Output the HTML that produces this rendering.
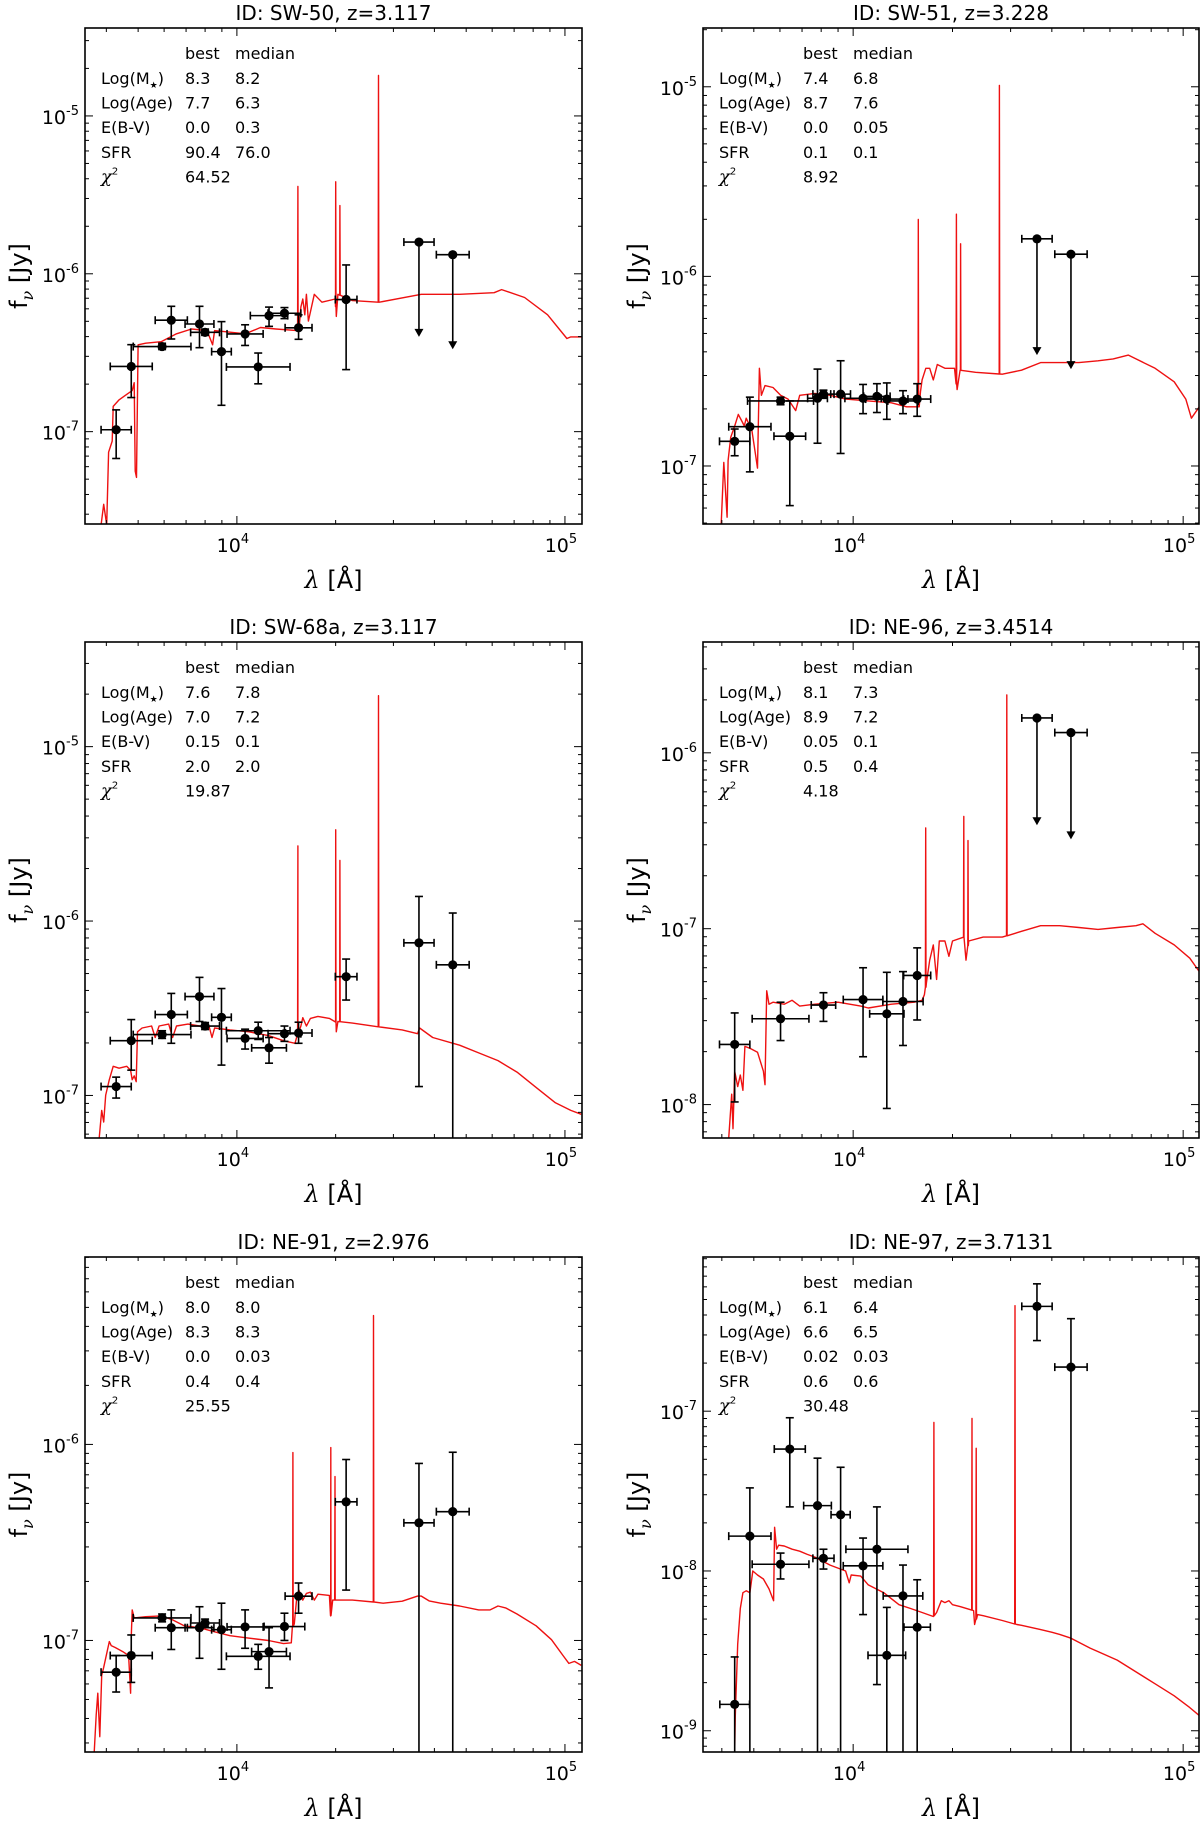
<!DOCTYPE html>
<html><head><meta charset="utf-8"><title>SED fits</title>
<style>
html,body{margin:0;padding:0;background:#fff;}
svg text{font-family:"DejaVu Sans","Liberation Sans",sans-serif;fill:#000;}
.serif{font-family:"DejaVu Serif","Liberation Serif",serif;font-style:italic;}
</style></head>
<body>
<svg id="fig" xmlns="http://www.w3.org/2000/svg" width="1200" height="1821" viewBox="0 0 1200 1821"></svg>
<script>
// ---- shared data ----
const lineRest = [3727, 4861, 5007, 6563];
const statLabels = ['Log(M\u2605)', 'Log(Age)', 'E(B-V)', 'SFR', 'chi2'];

// ---- panel 1: SW-50 ----
const p1Lam = [3.632,3.678,3.772,3.800,3.886,3.903,3.953,4.025,4.065,4.098,4.145,4.188,4.333,4.555,4.658];
const p1LamErr = [0.046,0.064,0.088,0.049,0.044,0.044,0.030,0.055,0.097,0.057,0.050,0.041,0.033,0.046,0.050];
const p1Flux = [-6.988,-6.587,-6.461,-6.294,-6.318,-6.371,-6.493,-6.381,-6.590,-6.265,-6.250,-6.342,-6.163,-5.799,-5.879];
const p1FluxLo = [-7.170,-6.784,-6.480,-6.413,-6.468,-6.390,-6.833,-6.454,-6.697,-6.333,-6.284,-6.415,-6.607,-6.400,-6.478];
const p1FluxHi = [-6.862,-6.449,-6.440,-6.206,-6.206,-6.350,-6.303,-6.323,-6.502,-6.211,-6.214,-6.260,-5.944,-5.799,-5.879];
const p1Upper = [0,0,0,0,0,0,0,0,0,0,0,0,0,1,1];
const p1SpecLam = [3.586,3.594,3.603,3.609,3.620,3.623,3.640,3.660,3.681,3.687,3.690,3.694,3.699,3.722,3.769,3.816,3.862,3.909,3.926,3.932,3.979,4.026,4.072,4.119,4.183,4.189,4.195,4.201,4.207,4.212,4.218,4.236,4.259,4.300,4.303,4.308,4.352,4.434,4.562,4.679,4.784,4.807,4.877,4.947,5.006,5.018,5.05];
const p1SpecFlux = [-7.59,-7.46,-7.59,-7.13,-7.06,-6.84,-6.80,-6.77,-6.74,-6.69,-7.25,-7.29,-6.45,-6.44,-6.43,-6.38,-6.35,-6.36,-6.45,-6.36,-6.37,-6.38,-6.34,-6.35,-6.36,-6.36,-6.21,-6.16,-6.26,-6.13,-6.30,-6.13,-6.18,-6.16,-6.27,-6.13,-6.17,-6.18,-6.13,-6.13,-6.12,-6.10,-6.15,-6.26,-6.41,-6.40,-6.40];
const p1LinePeak = [-5.447,-5.417,-5.568,-4.743];

// ---- panel 2: SW-51 ----
const p2Lam = [3.641,3.687,3.780,3.808,3.892,3.910,3.962,4.030,4.072,4.102,4.151,4.194,4.557,4.660];
const p2LamErr = [0.046,0.064,0.100,0.048,0.030,0.032,0.030,0.055,0.040,0.064,0.046,0.041,0.046,0.049];
const p2Flux = [-6.870,-6.793,-6.657,-6.843,-6.643,-6.621,-6.621,-6.643,-6.633,-6.647,-6.657,-6.647,-5.802,-5.883];
const p2FluxLo = [-6.946,-7.031,-6.677,-7.209,-6.880,-6.640,-6.934,-6.724,-6.718,-6.754,-6.724,-6.738,-6.415,-6.489];
const p2FluxHi = [-6.805,-6.637,-6.637,-6.657,-6.489,-6.600,-6.445,-6.570,-6.566,-6.562,-6.603,-6.566,-5.802,-5.883];
const p2Upper = [0,0,0,0,0,0,0,0,0,0,0,0,1,1];
const p2SpecLam = [3.600,3.608,3.618,3.621,3.629,3.641,3.652,3.664,3.670,3.676,3.693,3.705,3.710,3.716,3.722,3.733,3.757,3.780,3.803,3.826,3.838,3.884,3.930,3.977,4.046,4.116,4.162,4.200,4.204,4.209,4.220,4.232,4.243,4.255,4.278,4.307,4.315,4.324,4.371,4.452,4.510,4.568,4.626,4.684,4.742,4.788,4.834,4.857,4.915,4.973,5.008,5.025,5.049];
const p2SpecFlux = [-7.307,-6.981,-7.27,-6.971,-6.849,-6.789,-6.728,-6.768,-6.789,-6.748,-6.809,-6.950,-7.011,-6.485,-6.627,-6.576,-6.586,-6.627,-6.647,-6.708,-6.627,-6.617,-6.627,-6.647,-6.657,-6.667,-6.688,-6.688,-6.607,-6.546,-6.485,-6.485,-6.546,-6.465,-6.485,-6.485,-6.597,-6.495,-6.506,-6.516,-6.495,-6.455,-6.455,-6.455,-6.445,-6.435,-6.415,-6.435,-6.485,-6.556,-6.647,-6.748,-6.688];
const p2LinePeak = [-5.70,-5.672,-5.828,-4.993];

// ---- panel 3: SW-68a ----
const p3Lam = [3.632,3.678,3.772,3.800,3.886,3.903,3.953,4.025,4.065,4.098,4.145,4.188,4.333,4.555,4.658];
const p3LamErr = [0.046,0.064,0.088,0.049,0.044,0.044,0.030,0.055,0.097,0.053,0.050,0.041,0.033,0.046,0.050];
const p3Flux = [-6.949,-6.686,-6.651,-6.536,-6.433,-6.602,-6.552,-6.673,-6.629,-6.727,-6.646,-6.642,-6.319,-6.125,-6.251];
const p3FluxLo = [-7.015,-6.855,-6.673,-6.701,-6.576,-6.622,-6.826,-6.734,-6.679,-6.815,-6.690,-6.701,-6.453,-6.949,-7.300];
const p3FluxHi = [-6.895,-6.565,-6.629,-6.415,-6.323,-6.582,-6.387,-6.620,-6.580,-6.668,-6.602,-6.580,-6.218,-5.859,-5.954];
const p3Upper = [0,0,0,0,0,0,0,0,0,0,0,0,0,0,0];
const p3SpecLam = [3.580,3.588,3.594,3.600,3.611,3.623,3.641,3.664,3.676,3.681,3.687,3.693,3.697,3.711,3.740,3.751,3.763,3.792,3.804,3.816,3.851,3.886,3.915,3.924,3.932,3.979,4.037,4.096,4.142,4.177,4.186,4.195,4.201,4.212,4.224,4.247,4.282,4.301,4.303,4.308,4.352,4.434,4.504,4.551,4.557,4.597,4.679,4.737,4.796,4.854,4.912,4.971,5.018,5.050];
const p3SpecFlux = [-7.251,-7.086,-7.152,-6.998,-6.910,-6.833,-6.844,-6.833,-6.855,-6.910,-6.888,-6.921,-6.635,-6.613,-6.602,-6.668,-6.602,-6.591,-6.668,-6.602,-6.591,-6.602,-6.602,-6.668,-6.613,-6.624,-6.635,-6.657,-6.686,-6.701,-6.646,-6.602,-6.554,-6.602,-6.558,-6.547,-6.558,-6.569,-6.635,-6.576,-6.585,-6.607,-6.624,-6.646,-6.613,-6.668,-6.712,-6.756,-6.800,-6.866,-6.954,-7.042,-7.086,-7.108];
const p3LinePeak = [-5.569,-5.477,-5.653,-4.708];

// ---- panel 4: NE-96 ----
const p4Lam = [3.641,3.780,3.910,4.030,4.102,4.151,4.194,4.557,4.660];
const p4LamErr = [0.046,0.086,0.037,0.060,0.052,0.061,0.041,0.046,0.049];
const p4Flux = [-7.658,-7.512,-7.434,-7.403,-7.484,-7.414,-7.266,-5.802,-5.885];
const p4FluxLo = [-7.985,-7.636,-7.527,-7.728,-8.022,-7.664,-7.519,-6.412,-6.492];
const p4FluxHi = [-7.479,-7.418,-7.364,-7.222,-7.248,-7.244,-7.109,-5.802,-5.885];
const p4Upper = [0,0,0,0,0,0,0,1,1];
const p4SpecLam = [3.623,3.632,3.636,3.641,3.650,3.658,3.666,3.672,3.687,3.710,3.728,3.733,3.738,3.745,3.757,3.791,3.815,3.838,3.884,3.954,4.023,4.046,4.116,4.185,4.209,4.216,4.222,4.232,4.243,4.253,4.261,4.278,4.290,4.301,4.336,4.342,4.350,4.394,4.452,4.510,4.568,4.626,4.684,4.742,4.800,4.857,4.878,4.915,4.973,5.020,5.049];
const p4SpecFlux = [-8.192,-7.941,-8.137,-7.810,-7.898,-7.832,-7.919,-7.669,-7.680,-7.702,-7.810,-7.887,-7.353,-7.429,-7.418,-7.429,-7.407,-7.440,-7.429,-7.418,-7.440,-7.451,-7.429,-7.418,-7.407,-7.375,-7.309,-7.179,-7.092,-7.288,-7.070,-7.070,-7.157,-7.070,-7.048,-7.179,-7.070,-7.048,-7.048,-7.015,-6.983,-6.983,-6.993,-7.004,-6.993,-6.983,-6.972,-7.026,-7.092,-7.168,-7.244];
const p4LinePeak = [-6.427,-6.362,-6.499,-5.671];

// ---- panel 5: NE-91 ----
const p5Lam = [3.632,3.678,3.772,3.800,3.886,3.903,3.953,4.025,4.065,4.098,4.145,4.188,4.333,4.555,4.658];
const p5LamErr = [0.046,0.064,0.088,0.049,0.044,0.044,0.030,0.055,0.097,0.053,0.062,0.041,0.033,0.046,0.050];
const p5Flux = [-7.162,-7.077,-6.885,-6.935,-6.935,-6.911,-6.945,-6.931,-7.081,-7.057,-6.929,-6.774,-6.293,-6.400,-6.343];
const p5FluxLo = [-7.263,-7.214,-6.905,-7.046,-7.091,-6.931,-7.147,-7.040,-7.147,-7.242,-7.000,-6.861,-6.743,-7.700,-7.700];
const p5FluxHi = [-7.077,-6.972,-6.865,-6.844,-6.828,-6.891,-6.810,-6.844,-7.020,-6.935,-6.861,-6.707,-6.077,-6.097,-6.040];
const p5Upper = [0,0,0,0,0,0,0,0,0,0,0,0,0,0,0];
const p5SpecLam = [3.565,3.571,3.576,3.582,3.588,3.594,3.611,3.617,3.629,3.652,3.670,3.676,3.678,3.681,3.687,3.722,3.769,3.804,3.839,3.886,3.932,3.979,4.026,4.096,4.142,4.166,4.169,4.175,4.183,4.189,4.201,4.212,4.224,4.236,4.247,4.282,4.286,4.292,4.306,4.352,4.418,4.446,4.504,4.551,4.562,4.586,4.621,4.679,4.737,4.772,4.796,4.819,4.854,4.912,4.959,4.994,5.012,5.029,5.050];
const p5SpecFlux = [-7.572,-7.380,-7.269,-7.491,-7.178,-7.137,-7.006,-7.026,-7.036,-7.057,-7.077,-7.269,-6.976,-6.844,-6.885,-6.879,-6.875,-6.895,-6.925,-6.935,-6.956,-6.976,-6.986,-7.000,-7.016,-7.012,-6.935,-6.915,-6.774,-6.743,-6.794,-6.760,-6.754,-6.794,-6.764,-6.770,-6.875,-6.794,-6.794,-6.794,-6.804,-6.810,-6.800,-6.774,-6.774,-6.798,-6.810,-6.824,-6.844,-6.844,-6.824,-6.834,-6.865,-6.925,-6.996,-7.077,-7.117,-7.107,-7.127];
const p5LinePeak = [-6.042,-6.016,-6.164,-5.343];

// ---- panel 6: NE-97 ----
const p6Lam = [3.641,3.687,3.780,3.808,3.892,3.910,3.962,4.030,4.072,4.102,4.151,4.194,4.557,4.660];
const p6LamErr = [0.045,0.064,0.086,0.047,0.042,0.032,0.029,0.060,0.094,0.057,0.060,0.040,0.046,0.049];
const p6Flux = [-8.835,-7.782,-7.958,-7.237,-7.591,-7.921,-7.648,-7.968,-7.864,-8.528,-8.156,-8.352,-6.344,-6.724];
const p6FluxLo = [-9.3,-9.3,-8.050,-7.599,-9.3,-7.988,-9.3,-8.273,-8.711,-9.3,-9.3,-9.3,-6.558,-9.3];
const p6FluxHi = [-8.538,-7.480,-7.888,-7.041,-7.294,-7.864,-7.351,-7.794,-7.599,-8.228,-7.963,-8.055,-6.203,-6.421];
const p6Upper = [0,0,0,0,0,0,0,0,0,0,0,0,0,0];
const p6SpecLam = [3.641,3.643,3.650,3.658,3.666,3.676,3.687,3.696,3.710,3.728,3.745,3.759,3.762,3.768,3.774,3.791,3.815,3.838,3.861,3.884,3.907,3.930,3.977,3.988,3.994,4.023,4.046,4.093,4.139,4.174,4.209,4.243,4.253,4.267,4.278,4.290,4.301,4.324,4.365,4.368,4.377,4.394,4.452,4.496,4.510,4.568,4.603,4.626,4.660,4.718,4.800,4.857,4.915,4.973,5.020,5.049];
const p6SpecFlux = [-9.135,-8.905,-8.458,-8.235,-8.136,-8.124,-8.136,-8.0,-8.025,-8.050,-8.112,-8.186,-7.727,-7.864,-7.839,-7.844,-7.864,-7.876,-7.896,-7.913,-7.938,-7.963,-8.0,-8.074,-8.025,-8.032,-8.087,-8.136,-8.211,-8.235,-8.260,-8.285,-8.260,-8.186,-8.198,-8.186,-8.211,-8.223,-8.248,-8.335,-8.273,-8.280,-8.310,-8.335,-8.340,-8.367,-8.384,-8.397,-8.421,-8.483,-8.558,-8.632,-8.706,-8.781,-8.855,-8.905];
const p6LinePeak = [-7.071,-7.046,-7.232,-6.34];

// ---- panel config (layout + references) ----
const panelIds = ['SW-50','SW-51','SW-68a','NE-96','NE-91','NE-97'];
const panelZ = ['3.117','3.228','3.117','3.4514','2.976','3.7131'];
const panelStats = [
 ['8.3','8.2','7.7','6.3','0.0','0.3','90.4','76.0','64.52'],
 ['7.4','6.8','8.7','7.6','0.0','0.05','0.1','0.1','8.92'],
 ['7.6','7.8','7.0','7.2','0.15','0.1','2.0','2.0','19.87'],
 ['8.1','7.3','8.9','7.2','0.05','0.1','0.5','0.4','4.18'],
 ['8.0','8.0','8.3','8.3','0.0','0.03','0.4','0.4','25.55'],
 ['6.1','6.4','6.6','6.5','0.02','0.03','0.6','0.6','30.48']
];
const panelYRange = [[-7.585,-4.443],[-7.306,-4.69],[-7.244,-4.40],[-8.19,-5.37],[-7.569,-5.044],[-9.133,-6.035]];
const P = [
 {lam:p1Lam,le:p1LamErr,f:p1Flux,lo:p1FluxLo,hi:p1FluxHi,up:p1Upper,sl:p1SpecLam,sf:p1SpecFlux,lp:p1LinePeak},
 {lam:p2Lam,le:p2LamErr,f:p2Flux,lo:p2FluxLo,hi:p2FluxHi,up:p2Upper,sl:p2SpecLam,sf:p2SpecFlux,lp:p2LinePeak},
 {lam:p3Lam,le:p3LamErr,f:p3Flux,lo:p3FluxLo,hi:p3FluxHi,up:p3Upper,sl:p3SpecLam,sf:p3SpecFlux,lp:p3LinePeak},
 {lam:p4Lam,le:p4LamErr,f:p4Flux,lo:p4FluxLo,hi:p4FluxHi,up:p4Upper,sl:p4SpecLam,sf:p4SpecFlux,lp:p4LinePeak},
 {lam:p5Lam,le:p5LamErr,f:p5Flux,lo:p5FluxLo,hi:p5FluxHi,up:p5Upper,sl:p5SpecLam,sf:p5SpecFlux,lp:p5LinePeak},
 {lam:p6Lam,le:p6LamErr,f:p6Flux,lo:p6FluxLo,hi:p6FluxHi,up:p6Upper,sl:p6SpecLam,sf:p6SpecFlux,lp:p6LinePeak}
];
const colBox = [{L:85,W:497,xmin:3.537,xmax:5.052},{L:703,W:496,xmin:3.545,xmax:5.048}];
const rowBox = [{T:28,H:496},{T:642,H:496},{T:1257,H:495}];

const NS = 'http://www.w3.org/2000/svg';
const svg = document.getElementById('fig');
function mk(tag, attrs, parent){
  const e = document.createElementNS(NS, tag);
  for (const k in attrs) e.setAttribute(k, attrs[k]);
  (parent||svg).appendChild(e);
  return e;
}

P.forEach((d, i) => {
  const cb = colBox[i%2], rb = rowBox[Math.floor(i/2)];
  const L = cb.L, W = cb.W, T = rb.T, H = rb.H, B = T+H, R = L+W;
  const [ymin, ymax] = panelYRange[i];
  const xs = v => L + (v - cb.xmin)/(cb.xmax - cb.xmin)*W;
  const ys = v => B - (v - ymin)/(ymax - ymin)*H;
  const z = parseFloat(panelZ[i]);

  const g = mk('g', {});
  
  

  const cid = 'clip' + i;
  const cp = mk('clipPath', {id: cid}, g);
  mk('rect', {x:L, y:T, width:W, height:H}, cp);

  const t = mk('text', {x:L+W/2, y:T-8, 'text-anchor':'middle', 'font-size':20}, g);
  t.textContent = 'ID: ' + panelIds[i] + ', z=' + panelZ[i];
  
  

  const pts = [];
  for (let k=0; k<Math.min(d.sl.length, d.sf.length); k++) pts.push([d.sl[k], d.sf[k]]);
  const interp = lx => {
    for (let k=0; k<pts.length-1; k++) if (lx>=pts[k][0] && lx<=pts[k+1][0]) {
      const tt = (lx-pts[k][0])/(pts[k+1][0]-pts[k][0]);
      return pts[k][1] + tt*(pts[k+1][1]-pts[k][1]);
    }
    return pts[pts.length-1][1];
  };
  const extra = [];
  lineRest.forEach((lr, k) => {
    const lx = Math.log10(lr*(1+z));
    const base = interp(lx);
    extra.push([lx-0.0008, base], [lx, d.lp[k]], [lx+0.0008, base]);
  });
  const all = pts.concat(extra).sort((a,b)=>a[0]-b[0]);
  const sp = mk('polyline', {points: all.map(p=>xs(p[0]).toFixed(1)+','+ys(p[1]).toFixed(1)).join(' '),
    fill:'none', stroke:'#ee1111', 'stroke-width':1.4, 'stroke-linejoin':'round', 'clip-path':'url(#'+cid+')'}, g);
  
  

  const pg = mk('g', {'clip-path':'url(#'+cid+')', stroke:'#000', 'stroke-width':1.6}, g);
  
  
  for (let k=0; k<d.lam.length; k++) {
    const x = xs(d.lam[k]), y = ys(d.f[k]);
    const x1 = xs(d.lam[k]-d.le[k]), x2 = xs(d.lam[k]+d.le[k]);
    const ylo = ys(d.lo[k]), yhi = ys(d.hi[k]);
    mk('line', {x1:x1, y1:y, x2:x2, y2:y}, pg);
    mk('line', {x1:x1, y1:y-4, x2:x1, y2:y+4}, pg);
    mk('line', {x1:x2, y1:y-4, x2:x2, y2:y+4}, pg);
    if (d.up[k]) {
      mk('line', {x1:x, y1:y, x2:x, y2:ylo-6}, pg);
      mk('polygon', {points:(x-4.5)+','+(ylo-8)+' '+(x+4.5)+','+(ylo-8)+' '+x+','+ylo, fill:'#000', stroke:'none'}, pg);
    } else {
      mk('line', {x1:x, y1:yhi, x2:x, y2:ylo}, pg);
      mk('line', {x1:x-4, y1:yhi, x2:x+4, y2:yhi}, pg);
      mk('line', {x1:x-4, y1:ylo, x2:x+4, y2:ylo}, pg);
    }
    const c = mk('circle', {cx:x, cy:y, r:4.6, fill:'#000', stroke:'none'}, pg);
    
    
  }

  const fr = mk('rect', {x:L, y:T, width:W, height:H, fill:'none', stroke:'#000', 'stroke-width':1.6}, g);
  
  

  const tk = mk('g', {stroke:'#000', 'stroke-width':1}, g);
  for (let dec=Math.floor(ymin); dec<=Math.ceil(ymax); dec++) {
    for (let m=1; m<=9; m++) {
      const v = dec + Math.log10(m);
      if (v < ymin || v > ymax) continue;
      const y = ys(v), len = m===1 ? 8 : 4;
      mk('line', {x1:L, y1:y, x2:L+len, y2:y}, tk);
      mk('line', {x1:R, y1:y, x2:R-len, y2:y}, tk);
      if (m===1) {
        const lt = mk('text', {x:L-6, y:y+8, 'text-anchor':'end', 'font-size':19, stroke:'none'}, g);
        lt.textContent = '10';
        const sup = mk('tspan', {dy:-9, 'font-size':13}, lt);
        sup.textContent = String(dec);
        
        
      }
    }
  }
  for (let dec=3; dec<=5; dec++) {
    for (let m=1; m<=9; m++) {
      const v = dec + Math.log10(m);
      if (v < cb.xmin || v > cb.xmax) continue;
      const x = xs(v), len = m===1 ? 8 : 4;
      mk('line', {x1:x, y1:B, x2:x, y2:B-len}, tk);
      mk('line', {x1:x, y1:T, x2:x, y2:T+len}, tk);
      if (m===1) {
        const lt = mk('text', {x:x-4, y:B+28, 'text-anchor':'middle', 'font-size':19, stroke:'none'}, g);
        lt.textContent = '10';
        const sup = mk('tspan', {dy:-9, 'font-size':13}, lt);
        sup.textContent = String(dec);
        
        
      }
    }
  }

  const xl = mk('text', {x:L+W/2, y:B+64, 'text-anchor':'middle', 'font-size':24}, g);
  const lam = mk('tspan', {class:'serif'}, xl); lam.textContent = '\u03bb';
  const rest = mk('tspan', {}, xl); rest.textContent = ' [\u00c5]';
  
  

  const yl = mk('text', {x:0, y:0, 'text-anchor':'middle', 'font-size':24, transform:'translate('+(L-58)+','+(T+H/2)+') rotate(-90)'}, g);
  const ff = mk('tspan', {}, yl); ff.textContent = 'f';
  const nu = mk('tspan', {class:'serif', 'font-size':16, dy:6}, yl); nu.textContent = '\u03bd';
  const jy = mk('tspan', {dy:-6}, yl); jy.textContent = ' [Jy]';
  
  

  const st = mk('g', {'font-size':16}, g);
  
  
  const s = panelStats[i];
  const hb = mk('text', {x:L+100, y:T+31}, st); hb.textContent = 'best';
  const hm = mk('text', {x:L+150, y:T+31}, st); hm.textContent = 'median';
  for (let r=0; r<5; r++) {
    const yy = T + 56 + r*24.6;
    const lab = mk('text', {x:L+16, y:yy}, st);
    if (r===0) {
      lab.textContent = 'Log(M';
      const sb = mk('tspan', {'font-size':9, dy:4}, lab); sb.textContent = '\u2605';
      const cl = mk('tspan', {dy:-4}, lab); cl.textContent = ')';
    } else if (r===4) {
      const chi = mk('tspan', {class:'serif', 'font-size':18}, lab); chi.textContent = '\u03c7';
      const two = mk('tspan', {'font-size':10, dy:-8}, lab); two.textContent = '2';
    } else {
      lab.textContent = statLabels[r];
    }
    const bv = mk('text', {x:L+100, y:yy}, st); bv.textContent = s[r*2];
    if (r<4) { const mv = mk('text', {x:L+150, y:yy}, st); mv.textContent = s[r*2+1]; }
  }
});
</script>
</body></html>
